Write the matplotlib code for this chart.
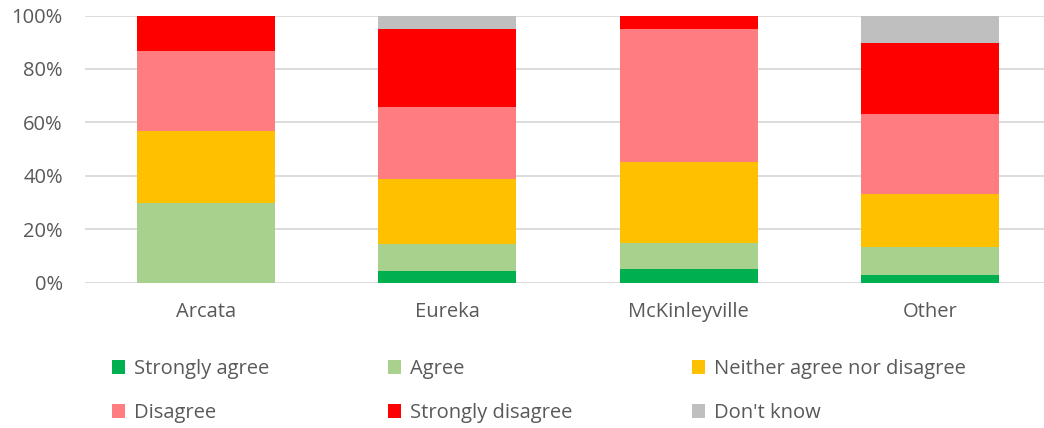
import matplotlib.pyplot as plt
import numpy as np

plt.rcParams['font.family'] = ['Open Sans', 'DejaVu Sans']

towns = ["Arcata", "Eureka", "McKinleyville", "Other"]

# percent of responses per town
strongly_agree = [0, 4.5, 5, 2.9]
agree = [30, 10, 10, 10.3]
neither = [26.7, 24.3, 30, 20.1]
disagree = [30, 26.9, 50, 29.9]
strongly_disagree = [13.3, 29.2, 5, 26.6]
dont_know = [0, 5.1, 0, 10.2]

series = [
    ("Strongly agree", strongly_agree, "#00B050"),
    ("Agree", agree, "#A9D18E"),
    ("Neither agree nor disagree", neither, "#FFC000"),
    ("Disagree", disagree, "#FF7C80"),
    ("Strongly disagree", strongly_disagree, "#FF0000"),
    ("Don't know", dont_know, "#BFBFBF"),
]

fig = plt.figure(figsize=(10.44, 4.28), dpi=100)
ax = fig.add_axes([85 / 1044, 1 - 282.7 / 428, 966 / 1044, 267.2 / 428])

x = np.arange(len(towns))
bottom = np.zeros(len(towns))
handles = {}
for name, vals, col in series:
    vals = np.array(vals)
    b = ax.bar(x, vals, 0.573, bottom=bottom, color=col, label=name, zorder=2)
    handles[name] = b
    bottom += vals

ax.set_xlim(-0.5, 3.5)
ax.set_ylim(0, 100)
ax.set_yticks(np.arange(0, 101, 20))
ax.set_yticklabels([f"{v}%" for v in range(0, 101, 20)])
ax.set_xticks(x)
ax.set_xticklabels(towns)
ax.grid(axis='y', color='#d9d9d9', lw=1.3, zorder=0)
ax.set_axisbelow(True)
for s in ax.spines.values():
    s.set_visible(False)
ax.tick_params(length=0, labelsize=14.5, colors='#595959')
ax.tick_params(axis='y', pad=16)
ax.tick_params(axis='x', pad=14)

# legend fills row by row: reorder for matplotlib's column-wise fill
order = ["Strongly agree", "Disagree", "Agree", "Strongly disagree",
         "Neither agree nor disagree", "Don't know"]
leg = fig.legend([handles[n] for n in order], order, ncol=3,
                 loc='upper left', bbox_to_anchor=(112 / 1044, 1 - 359 / 428),
                 frameon=False, fontsize=14.5, handlelength=0.65, handleheight=0.65,
                 handletextpad=0.45, columnspacing=5.9, labelspacing=1.2,
                 borderaxespad=0, borderpad=0)
for t in leg.get_texts():
    t.set_color('#595959')

fig.savefig("out.png", dpi=100)
